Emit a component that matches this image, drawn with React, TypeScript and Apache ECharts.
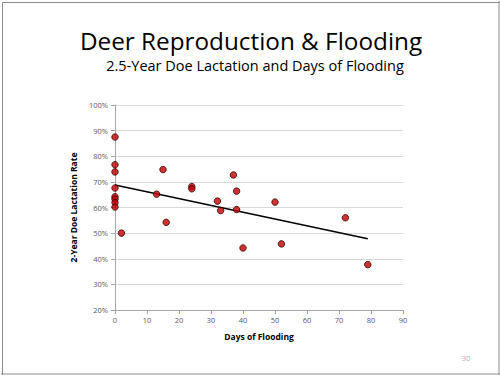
import React, { useEffect, useRef } from "react";
import * as echarts from "echarts";

const titleText = "Deer Reproduction & Flooding";
const subtitleText = "2.5-Year Doe Lactation and Days of Flooding";
const xAxisName = "Days of Flooding";
const yAxisName = "2-Year Doe Lactation Rate";
const pageNumber = "30";

// Days of flooding and lactation rate (%)
const daysFlooded = [0, 0, 0, 0, 0, 0, 0, 0, 2, 13, 15, 16, 24, 24, 32, 33, 37, 38, 38, 40, 50, 52, 72, 79];
const lactationRate = [87.5, 76.7, 73.9, 67.6, 64.2, 63.3, 61.9, 60.2, 50.0, 65.2, 74.8, 54.2, 68.2, 67.3, 62.5, 58.8, 72.7, 66.4, 59.2, 44.2, 62.1, 45.8, 56.0, 37.7];

// Linear trend line endpoints (as drawn)
const trendX = [0, 79];
const trendY = [68.8, 47.8];

const FONT = "'Open Sans', 'Noto Sans', sans-serif";

export default function App() {
  const ref = useRef<HTMLDivElement>(null);
  useEffect(() => {
    if (!ref.current) return;
    const chart = echarts.init(ref.current, undefined, { renderer: "svg" });
    const points = daysFlooded.map((d, i) => [d, lactationRate[i]]);
    const trend = trendX.map((d, i) => [d, trendY[i]]);
    chart.setOption({
      animation: false,
      backgroundColor: "#ffffff",
      textStyle: { fontFamily: FONT },
      graphic: [
        {
          type: "rect",
          left: 0,
          top: 0,
          shape: { x: 0.5, y: 0.5, width: 498, height: 373 },
          style: { fill: "none", stroke: "#8c8c8c", lineWidth: 1 },
          silent: true,
        },
        {
          type: "line",
          shape: { x1: 1, y1: 374, x2: 500, y2: 374 },
          style: { stroke: "#8c8c8c", lineWidth: 1 },
          silent: true,
        },
        {
          type: "line",
          shape: { x1: 499, y1: 1, x2: 499, y2: 375 },
          style: { stroke: "#8c8c8c", lineWidth: 1 },
          silent: true,
        },
        {
          type: "text",
          x: 251,
          y: 40,
          style: {
            text: titleText,
            fontFamily: FONT,
            fontSize: 24.3,
            fill: "#000000",
            align: "center",
            verticalAlign: "middle",
          },
        },
        {
          type: "text",
          x: 255,
          y: 65,
          style: {
            text: subtitleText,
            fontFamily: FONT,
            fontSize: 14.5,
            fill: "#000000",
            align: "center",
            verticalAlign: "middle",
          },
        },
        {
          type: "text",
          x: 466,
          y: 357,
          style: {
            text: pageNumber,
            fontFamily: FONT,
            fontSize: 8,
            fill: "#b0b0b0",
            align: "center",
            verticalAlign: "middle",
          },
        },
      ],
      grid: { left: 115, top: 105, width: 288, height: 205, containLabel: false },
      xAxis: {
        type: "value",
        min: 0,
        max: 90,
        interval: 10,
        name: xAxisName,
        nameLocation: "middle",
        nameGap: 22,
        nameTextStyle: { fontFamily: FONT, fontSize: 8.5, fontWeight: "bold", color: "#000000" },
        axisLine: { show: true, lineStyle: { color: "#a6a6a6", width: 1 } },
        axisTick: { show: true, length: 4, lineStyle: { color: "#a6a6a6" } },
        axisLabel: { fontFamily: FONT, fontSize: 7.5, color: "#595959", margin: 6 },
        splitLine: { show: false },
      },
      yAxis: {
        type: "value",
        min: 20,
        max: 100,
        interval: 10,
        name: yAxisName,
        nameLocation: "middle",
        nameGap: 35,
        nameRotate: 90,
        nameTextStyle: { fontFamily: FONT, fontSize: 8.5, fontWeight: "bold", color: "#000000" },
        axisLine: { show: true, lineStyle: { color: "#a6a6a6", width: 1 } },
        axisTick: { show: true, length: 4, lineStyle: { color: "#a6a6a6" } },
        axisLabel: {
          fontFamily: FONT,
          fontSize: 7.5,
          color: "#595959",
          margin: 7,
          formatter: (v: number) => `${v}%`,
        },
        splitLine: { show: true, lineStyle: { color: "#d9d9d9", width: 1 } },
      },
      series: [
        {
          type: "line",
          data: trend,
          showSymbol: false,
          symbol: "none",
          lineStyle: { color: "#000000", width: 1.6 },
          z: 2,
          silent: true,
        },
        {
          type: "scatter",
          data: points,
          symbol: "circle",
          symbolSize: 6.5,
          itemStyle: { color: "#c00000", borderColor: "#3d0000", borderWidth: 1 },
          z: 3,
        },
      ],
    });
    return () => chart.dispose();
  }, []);
  return (
    <div
      ref={ref}
      style={{ position: "fixed", left: 0, top: 0, width: 500, height: 375 }}
    />
  );
}
